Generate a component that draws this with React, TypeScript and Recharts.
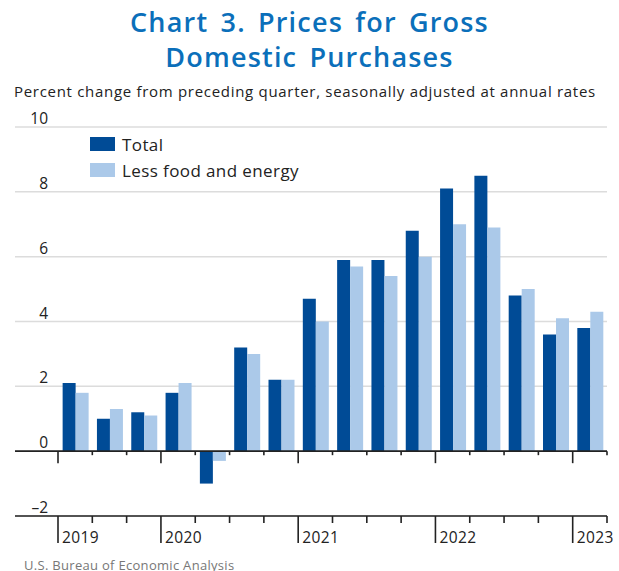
import React from "react";
import {
  BarChart,
  Bar,
  XAxis,
  YAxis,
  CartesianGrid,
  ReferenceLine,
  Legend,
} from "recharts";

// 2019 Q2 through 2023 Q1
const quarters = [
  "2019Q2", "2019Q3", "2019Q4",
  "2020Q1", "2020Q2", "2020Q3", "2020Q4",
  "2021Q1", "2021Q2", "2021Q3", "2021Q4",
  "2022Q1", "2022Q2", "2022Q3", "2022Q4",
  "2023Q1",
];
const total = [2.1, 1.0, 1.2, 1.8, -1.0, 3.2, 2.2, 4.7, 5.9, 5.9, 6.8, 8.1, 8.5, 4.8, 3.6, 3.8];
const lessFoodEnergy = [1.8, 1.3, 1.1, 2.1, -0.3, 3.0, 2.2, 4.0, 5.7, 5.4, 6.0, 7.0, 6.9, 5.0, 4.1, 4.3];
const yTicks = [-2, 0, 2, 4, 6, 8, 10];

const data = quarters.map((q, i) => ({
  q,
  total: total[i],
  core: lessFoodEnergy[i],
}));

const DARK = "#004b96";
const LIGHT = "#abc9e9";
const FONT = "'Open Sans', Lato, sans-serif";

// plot geometry (px)
const TOP = 127;
const BOTTOM = 516;
const LEFT = 15;
const RIGHT = 12;
const PAD_LEFT = 43;
const W = 619;
const H = 571;
const BAND = (W - RIGHT - LEFT - PAD_LEFT) / quarters.length;
const ZERO = TOP + ((BOTTOM - TOP) * 10) / 12;

const QuarterTick = (props: any) => {
  const { x, index, payload } = props;
  const left = x - BAND / 2;
  const label: string = payload.value;
  const isYear = index === 0 || label.endsWith("Q1");
  const isLast = index === quarters.length - 1;
  const right = x + BAND / 2;
  return (
    <g>
      <line x1={left} x2={left} y1={BOTTOM} y2={BOTTOM + (isYear ? 27 : 7)} stroke="#222" strokeWidth={1.6} />
      <line x1={left} x2={left} y1={ZERO} y2={ZERO + (isYear ? 12 : 4)} stroke="#222" strokeWidth={1.6} />
      {isYear && (
        <text x={left + 4} y={543} fontSize={15.5} letterSpacing={0.4} fill="#222" fontFamily={FONT}>
          {label.slice(0, 4)}
        </text>
      )}
      {isLast && (
        <>
          <line x1={right} x2={right} y1={BOTTOM} y2={BOTTOM + 7} stroke="#222" strokeWidth={1.6} />
          <line x1={right} x2={right} y1={ZERO} y2={ZERO + 4} stroke="#222" strokeWidth={1.6} />
        </>
      )}
    </g>
  );
};

const ValueTick = (props: any) => {
  const { y, payload } = props;
  const v: number = payload.value;
  return (
    <text x={48} y={y - 3} textAnchor="end" fontSize={15.5} fill="#222" fontFamily={FONT}>
      {v < 0 ? `–${Math.abs(v)}` : v}
    </text>
  );
};

const LegendBox = () => (
  <div style={{ fontFamily: FONT, fontSize: 17, letterSpacing: 0.4, color: "#222" }}>
    {[
      { c: DARK, t: "Total" },
      { c: LIGHT, t: "Less food and energy" },
    ].map((it) => (
      <div key={it.t} style={{ display: "flex", alignItems: "center", height: 26 }}>
        <span style={{ display: "inline-block", width: 25, height: 14, background: it.c, marginRight: 7 }} />
        <span>{it.t}</span>
      </div>
    ))}
  </div>
);

export default function App() {
  return (
    <div style={{ position: "absolute", left: 0, top: 0, width: W, height: H, background: "#fff", fontFamily: FONT, overflow: "hidden" }}>
      <div
        style={{
          position: "absolute",
          left: 0,
          top: 4,
          width: W,
          textAlign: "center",
          color: "#0b6fba",
          fontSize: 27,
          fontWeight: 600,
          lineHeight: "35px",
          letterSpacing: 1.2,
          wordSpacing: 4,
        }}
      >
        Chart 3. Prices for Gross
        <br />
        Domestic Purchases
      </div>
      <div style={{ position: "absolute", left: 14, top: 81, fontSize: 15, letterSpacing: 0.7, color: "#222", whiteSpace: "nowrap" }}>
        Percent change from preceding quarter, seasonally adjusted at annual rates
      </div>
      <div style={{ position: "absolute", left: 0, top: 0 }}>
        <BarChart
          width={W}
          height={H}
          data={data}
          margin={{ top: TOP, bottom: 0, left: LEFT - 1, right: RIGHT }}
          barGap={0}
          barCategoryGap="13.5%"
        >
          <CartesianGrid vertical={false} stroke="#dcdcdc" strokeWidth={1.5} />
          <XAxis
            dataKey="q"
            interval={0}
            padding={{ left: PAD_LEFT, right: 0 }}
            tick={<QuarterTick />}
            tickLine={false}
            axisLine={{ stroke: "#222", strokeWidth: 1.6 }}
            height={H - BOTTOM}
          />
          <YAxis
            domain={[-2, 10]}
            ticks={yTicks}
            width={1}
            axisLine={false}
            tickLine={false}
            tick={<ValueTick />}
          />
          <ReferenceLine y={0} stroke="#222" strokeWidth={1.6} />
          <Legend
            layout="horizontal"
            verticalAlign="middle"
            align="center"
            content={<LegendBox />}
            wrapperStyle={{ position: "absolute", left: 90, top: 131, width: 280 }}
          />
          <Bar dataKey="total" name="Total" fill={DARK} isAnimationActive={false} />
          <Bar dataKey="core" name="Less food and energy" fill={LIGHT} isAnimationActive={false} />
        </BarChart>
      </div>
      <div style={{ position: "absolute", left: 24, top: 556, fontSize: 13, letterSpacing: 0.3, color: "#777", whiteSpace: "nowrap" }}>
        U.S. Bureau of Economic Analysis
      </div>
    </div>
  );
}
